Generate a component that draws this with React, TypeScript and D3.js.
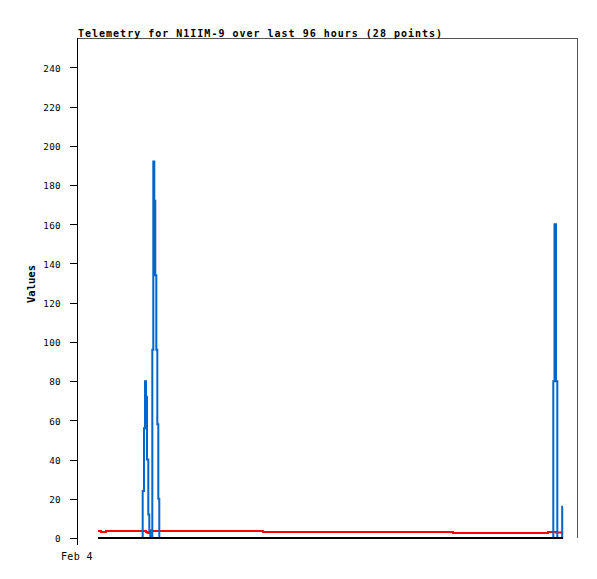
import React from "react";
import * as d3 from "d3";

// Hours since Feb 4 00:00 for each of the 28 telemetry points
const hours = [
  4.03, 4.61, 5.57, 12.61, 12.86, 13.06, 13.25, 13.44, 13.69, 13.88, 14.07, 14.46,
  14.65, 14.84, 15.03, 15.23, 15.42, 15.61, 15.8, 35.71, 72.19, 90.43, 91.45, 91.68,
  91.97, 92.22, 93.16, 93.31,
];
const blueValues = [
  0, 0, 0, 24, 56, 80, 72, 40, 12, 4, 0, 96, 192, 172, 134, 96, 58, 20, 0, 0, 0, 0,
  80, 160, 80, 0, 16, 16,
];
const redValues = [
  3.6, 3.0, 3.6, 3.6, 3.6, 3.6, 3.1, 2.8, 2.6, 3.1, 3.6, 3.6, 3.6, 3.6, 3.6, 3.6, 3.6,
  3.6, 3.6, 3.1, 2.6, 3.1, 3.1, 3.1, 2.8, 2.8, 3.1, 3.1,
];
const blackValues = [
  0, 0, 0, 0, 0, 0, 0, 0, 0, 0, 0, 0, 0, 0, 0, 0, 0, 0, 0, 0, 0, 0, 0, 0, 0, 0, 0, 0,
];
const yTicks = [0, 20, 40, 60, 80, 100, 120, 140, 160, 180, 200, 220, 240];
const xTickHours = [0];
const xTickLabels = ["Feb 4"];
const title = "Telemetry for N1IIM-9 over last 96 hours (28 points)";
const yLabel = "Values";

const W = 597;
const H = 579;
const L = 77;
const R = 577;
const T = 38;
const B = 538;
const FONT = "'DejaVu Sans Mono', monospace";

export default function App() {
  const x = d3.scaleLinear().domain([0, 96]).range([L, R]);
  const y = d3.scaleLinear().domain([0, 255]).range([B, T]);

  const mk = (vals: number[]) =>
    d3
      .line<number>()
      .x((_, i) => x(hours[i]))
      .y((v) => y(v))
      .curve(d3.curveStepAfter)(vals) || "";

  return (
    <svg
      width={W}
      height={H}
      style={{ position: "absolute", left: 0, top: 0, background: "#fff" }}
    >
      <rect x={0} y={0} width={W} height={H} fill="#fff" />
      {/* frame */}
      <line x1={L} x2={R + 0.5} y1={T + 0.5} y2={T + 0.5} stroke="#555" strokeWidth={1} />
      <line x1={R + 0.5} x2={R + 0.5} y1={T} y2={B} stroke="#555" strokeWidth={1} />
      {/* title */}
      <text
        x={78}
        y={36.5}
        fontFamily={FONT}
        fontWeight="bold"
        fontSize={10}
        letterSpacing={1}
        fill="#000"
      >
        {title}
      </text>
      {/* series */}
      <path d={mk(redValues)} fill="none" stroke="#ff0000" strokeWidth={2} />
      <path d={mk(blueValues)} fill="none" stroke="#0066cc" strokeWidth={2} />
      <path d={mk(blackValues)} fill="none" stroke="#000" strokeWidth={2} />
      {/* y axis */}
      <line x1={L + 0.5} x2={L + 0.5} y1={T} y2={B + 7} stroke="#000" strokeWidth={1} />
      {yTicks.map((t) => (
        <g key={t}>
          <line
            x1={L - 7}
            x2={L}
            y1={Math.round(y(t)) + 0.5}
            y2={Math.round(y(t)) + 0.5}
            stroke="#000"
            strokeWidth={1}
          />
          <text
            x={61}
            y={y(t) + 4.3}
            textAnchor="end"
            fontFamily={FONT}
            fontSize={9.3}
            letterSpacing={0.3}
            fill="#000"
          >
            {t}
          </text>
        </g>
      ))}
      {/* x ticks */}
      {xTickHours.map((h, i) => (
        <text
          key={h}
          x={x(h)}
          y={560}
          textAnchor="middle"
          fontFamily={FONT}
          fontSize={10}
          letterSpacing={0.4}
          fill="#000"
        >
          {xTickLabels[i]}
        </text>
      ))}
      {/* y label */}
      <text
        transform={`translate(35,${(T + B) / 2 - 4}) rotate(-90)`}
        textAnchor="middle"
        fontFamily={FONT}
        fontWeight="bold"
        fontSize={10.5}
        fill="#000"
      >
        {yLabel}
      </text>
    </svg>
  );
}
